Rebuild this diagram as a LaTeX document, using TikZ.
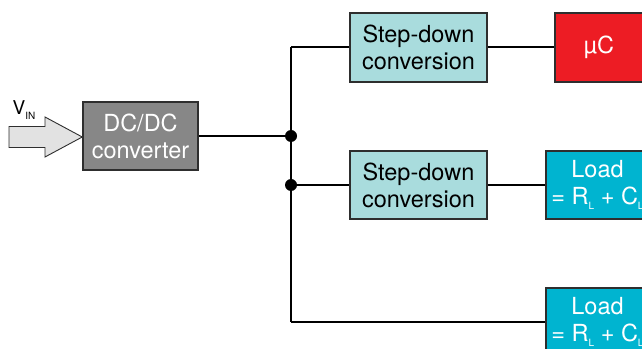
\documentclass[tikz,border=0pt]{standalone}
\usepackage{fontspec}
\setmainfont{TeX Gyre Heros}
\definecolor{dcgray}{HTML}{878787}
\definecolor{stepteal}{HTML}{A9DCDD}
\definecolor{ucred}{HTML}{ED1C24}
\definecolor{loadcyan}{HTML}{00B4D0}
\definecolor{edgegray}{HTML}{2E2E2E}
\definecolor{arrowfill}{HTML}{E2E2E2}
\newcommand{\lsub}[1]{\raisebox{-4.5pt}{\fontsize{10}{10}\selectfont #1}}
\begin{document}
\begin{tikzpicture}[x=1pt,y=1pt,
  blk/.style={draw=edgegray,line width=1.5pt,inner sep=0pt,align=center,
    font=\fontsize{23.5}{27}\selectfont},
  wire/.style={line width=2pt,black},
  dot/.style={circle,fill=black,inner sep=0pt,minimum size=12pt}]
\clip (0,0) rectangle (642,348);
\fill[white] (0,0) rectangle (642,348);
% boxes
\node[blk,fill=dcgray,text=white,minimum width=115pt,minimum height=68pt] (dc) at (140.5,212) {DC/DC\\converter};
\node[blk,fill=stepteal,minimum width=137pt,minimum height=69pt] (sd1) at (418.5,300.5) {Step-down\\conversion};
\node[blk,fill=stepteal,minimum width=137pt,minimum height=68pt] (sd2) at (418.5,163) {Step-down\\conversion};
\node[blk,fill=ucred,text=white,minimum width=88pt,minimum height=69pt] (uc) at (599,300.5) {µC};
\node[blk,fill=loadcyan,text=white,minimum width=103pt,minimum height=68pt] (ld1) at (597.5,163) {Load\\= R\lsub{L} + C\lsub{L}};
\node[blk,fill=loadcyan,text=white,minimum width=103pt,minimum height=68pt] (ld2) at (597.5,26) {Load\\= R\lsub{L} + C\lsub{L}};
% bus
\node[dot] (d1) at (291,212) {};
\node[dot] (d2) at (291,163) {};
\coordinate (top) at (291,300.5);
\coordinate (bot) at (291,26);
\draw[wire] (dc.east) -- (d1.center);
\draw[wire] (top) -- (bot);
\draw[wire] (top) -- (sd1.west);
\draw[wire] (sd1.east) -- (uc.west);
\draw[wire] (d2.center) -- (sd2.west);
\draw[wire] (sd2.east) -- (ld1.west);
\draw[wire] (bot) -- (ld2.west);
% input arrow
\draw[draw=edgegray,fill=arrowfill,line width=0.9pt,line join=miter]
  (9,200.5) -- (45,200.5) -- (45,191) -- (dc.west |- 0,211) -- (45,231) -- (45,221.5) -- (9,221.5) -- cycle;
\node[inner sep=0pt,anchor=base west,font=\fontsize{19}{19}\selectfont] (vin) at (12.5,233) {V\lsub{IN}};
\end{tikzpicture}
\end{document}
